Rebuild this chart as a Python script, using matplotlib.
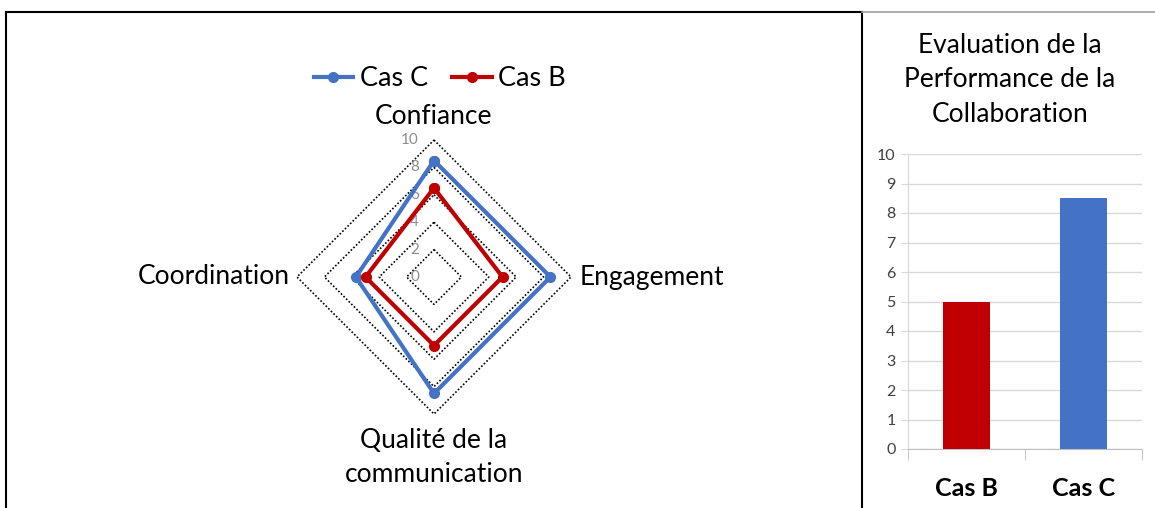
import matplotlib.pyplot as plt
from matplotlib.lines import Line2D
import numpy as np

plt.rcParams['font.family'] = ['Lato', 'DejaVu Sans']

# data
axes_labels = ['Confiance', 'Engagement', 'Qualité de la\ncommunication', 'Coordination']
cas_c = [8.5, 8.5, 8.5, 5.7]
cas_b = [6.5, 5.0, 5.0, 5.0]
radar_ticks = [0, 2, 4, 6, 8, 10]

bar_cats = ['Cas B', 'Cas C']
bar_vals = [5, 8.5]

RED = '#C00000'
BLUE = '#4472C4'

W, H = 1155, 508
fig = plt.figure(figsize=(W / 100, H / 100), dpi=100)

# frames around the two panels
fig.add_artist(Line2D([6 / W, 862 / W], [1 - 12 / H, 1 - 12 / H], color='black', lw=1.5))
fig.add_artist(Line2D([6 / W, 6 / W], [0, 1 - 12 / H], color='black', lw=1.5))
fig.add_artist(Line2D([862 / W, 862 / W], [0, 1 - 12 / H], color='black', lw=1.5))
fig.add_artist(Line2D([862 / W, 1], [1 - 12 / H, 1 - 12 / H], color='#A0A0A0', lw=1.2))

# ---- radar chart (cartesian axes, angles clockwise from top) ----
cx, cy, half = 434, 277, 150
R = 10 * half / 137.0
ax = fig.add_axes([(cx - half) / W, 1 - (cy + half) / H, 2 * half / W, 2 * half / H])
ax.set_xlim(-R, R)
ax.set_ylim(-R, R)
ax.axis('off')

theta = np.pi / 2 - np.arange(len(axes_labels)) * 2 * np.pi / len(axes_labels)
theta_c = np.append(theta, theta[0])

def polar_xy(vals):
    v = np.append(vals, vals[0])
    return v * np.cos(theta_c), v * np.sin(theta_c)

for t in radar_ticks[1:]:
    gx, gy = polar_xy(np.full(len(axes_labels), t))
    ax.plot(gx, gy, color='black', lw=1.2, ls=(0, (1, 1.2)), zorder=1)

for t in radar_ticks:
    ax.text(-1.1, t, str(t), ha='right', va='center', fontsize=11, color='#8C8C8C', zorder=2)

xb, yb = polar_xy(cas_b)
xc, yc = polar_xy(cas_c)
ax.plot(xc, yc, color=BLUE, lw=3, marker='o', ms=7, zorder=3, label='Cas C', clip_on=False)
ax.plot(xb, yb, color=RED, lw=3, marker='o', ms=7, zorder=4, label='Cas B', clip_on=False)

lab_fs = 19
ax.text(0, 11.7, axes_labels[0], ha='center', va='center', fontsize=lab_fs, clip_on=False)
ax.text(10.6, 0, axes_labels[1], ha='left', va='center', fontsize=lab_fs, clip_on=False)
ax.text(0, -11.0, axes_labels[2], ha='center', va='top', fontsize=lab_fs,
        linespacing=1.47, clip_on=False)
ax.text(-10.5, 0, axes_labels[3], ha='right', va='center', fontsize=lab_fs, clip_on=False)

ax.legend(loc='center', bbox_to_anchor=(440 / W, 1 - 79 / H), bbox_transform=fig.transFigure,
          ncol=2, frameon=False, fontsize=19.5, handlelength=1.45, handletextpad=0.25,
          columnspacing=0.9)

# ---- bar chart ----
bx = fig.add_axes([908 / W, 1 - 449 / H, (1142 - 908) / W, (449 - 154) / H])
pos = np.arange(len(bar_cats))
bx.bar(pos, bar_vals, width=0.4, color=[RED, BLUE], zorder=3)
bx.set_xlim(-0.5, len(bar_cats) - 0.5)
bx.set_ylim(0, 10)
bx.set_yticks(range(0, 11))
bx.yaxis.grid(True, color='#D9D9D9', lw=1, zorder=0)
bx.tick_params(axis='y', length=5, color='#D9D9D9', labelsize=11.5, labelcolor='#404040', pad=4)
bx.set_xticks(pos)
bx.set_xticklabels(bar_cats, fontsize=18, fontweight='bold')
bx.set_xticks(np.arange(-0.5, len(bar_cats)), minor=True)
bx.tick_params(axis='x', which='major', length=0, pad=20)
bx.tick_params(axis='x', which='minor', length=8, color='#BFBFBF')
for s in ['top', 'right']:
    bx.spines[s].set_visible(False)
bx.spines['left'].set_color('#D9D9D9')
bx.spines['bottom'].set_color('#BFBFBF')
bx.set_axisbelow(True)

fig.text(1010 / W, 1 - 80 / H, 'Evaluation de la\nPerformance de la\nCollaboration',
         ha='center', va='center', fontsize=19, linespacing=1.47)

fig.savefig('out.png', dpi=100)
